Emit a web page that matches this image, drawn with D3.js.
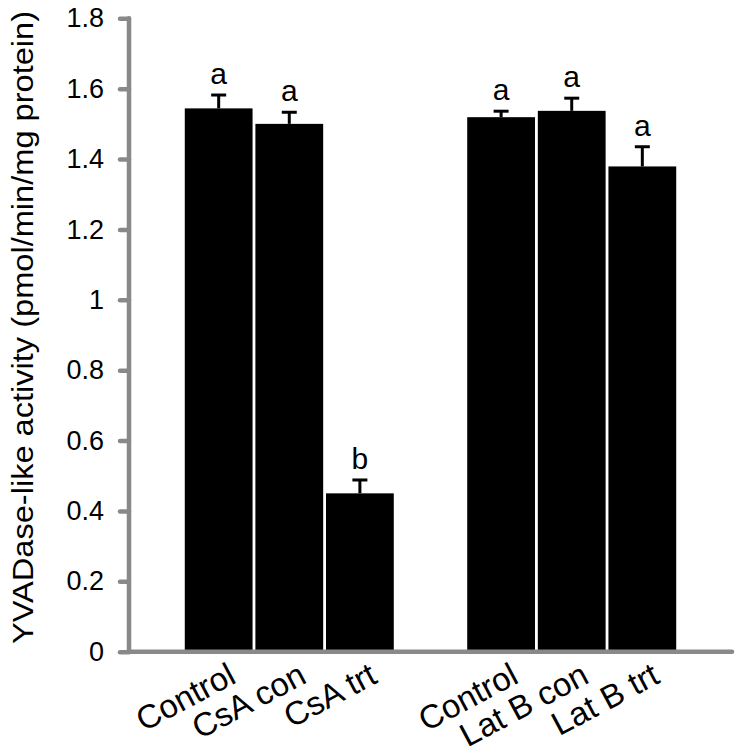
<!DOCTYPE html>
<html><head><meta charset="utf-8">
<script src="https://cdn.jsdelivr.net/npm/d3@7"></script>
<style>html,body{margin:0;padding:0;background:#fff}svg{display:block}text{font-family:"Liberation Sans",Arial,sans-serif}</style>
</head><body>
<script>
const categories = ["Control","CsA con","CsA trt","","Control","Lat B con","Lat B trt"];
const values     = [1.544, 1.500, 0.450, null, 1.519, 1.537, 1.379];
const errors     = [0.038, 0.033, 0.038, null, 0.017, 0.036, 0.056];
const letters    = ["a","a","b","","a","a","a"];
const yTicks     = [0, 0.2, 0.4, 0.6, 0.8, 1, 1.2, 1.4, 1.6, 1.8];
const yLabel     = "YVADase-like activity (pmol/min/mg protein)";

const W = 739, H = 756;
const svg = d3.select("body").append("svg").attr("width", W).attr("height", H);
const axisColor = "#898989";

const y = d3.scaleLinear().domain([0, 1.8]).range([651.7, 18.3]);
const x = d3.scaleBand().domain(d3.range(categories.length)).range([129, 732])
  .paddingInner(0.04).paddingOuter(0.79);

// bars
const idx = d3.range(categories.length).filter(i => values[i] != null);
svg.append("g").selectAll("rect").data(idx).join("rect")
  .attr("x", i => x(i)).attr("width", x.bandwidth())
  .attr("y", i => y(values[i])).attr("height", i => y(0) - y(values[i]))
  .attr("fill", "#000");

// error bars
const eb = svg.append("g").attr("stroke", "#000").attr("stroke-width", 3);
idx.forEach(i => {
  const cx = x(i) + x.bandwidth() / 2;
  eb.append("line").attr("x1", cx).attr("x2", cx).attr("y1", y(values[i])).attr("y2", y(values[i] + errors[i]));
  eb.append("line").attr("x1", cx - 7.5).attr("x2", cx + 7.5).attr("y1", y(values[i] + errors[i])).attr("y2", y(values[i] + errors[i]));
});

// significance letters
svg.append("g").selectAll("text").data(idx).join("text")
  .attr("x", i => x(i) + x.bandwidth() / 2)
  .attr("y", i => y(values[i] + errors[i]) - 11)
  .attr("text-anchor", "middle").attr("font-size", 30).attr("fill", "#000")
  .text(i => letters[i]);

// y axis
const yAxis = d3.axisLeft(y).tickValues(yTicks).tickSize(9).tickPadding(16).tickFormat(d => d3.format("")(d));
const gy = svg.append("g").attr("transform", "translate(129,0)").call(yAxis);
gy.select(".domain").remove();
gy.selectAll(".tick line").attr("stroke", axisColor).attr("stroke-width", 4.5).attr("stroke-linecap", "round");
gy.selectAll(".tick text").attr("font-size", 27).attr("fill", "#000").attr("font-family", "Liberation Sans, Arial, sans-serif");
svg.append("line").attr("x1", 129).attr("x2", 129).attr("y1", y(1.8)).attr("y2", y(0))
  .attr("stroke", axisColor).attr("stroke-width", 4.5).attr("stroke-linecap", "round");

// x axis line
svg.append("line").attr("x1", 129).attr("x2", 732).attr("y1", y(0)).attr("y2", y(0))
  .attr("stroke", axisColor).attr("stroke-width", 4.5).attr("stroke-linecap", "round");

// x labels
svg.append("g").selectAll("text").data(d3.range(categories.length).filter(i => categories[i] !== "")).join("text")
  .attr("transform", i => `translate(${x(i) + x.bandwidth() / 2 + 19},682) rotate(-28)`)
  .attr("text-anchor", "end").attr("font-size", 33).attr("fill", "#000")
  .text(i => categories[i]);

// y label
svg.append("text").attr("transform", "translate(33,327.5) rotate(-90)")
  .attr("text-anchor", "middle").attr("font-size", 30).attr("fill", "#000")
  .attr("textLength", 633).attr("lengthAdjust", "spacingAndGlyphs")
  .text(yLabel);
</script>
</body></html>
